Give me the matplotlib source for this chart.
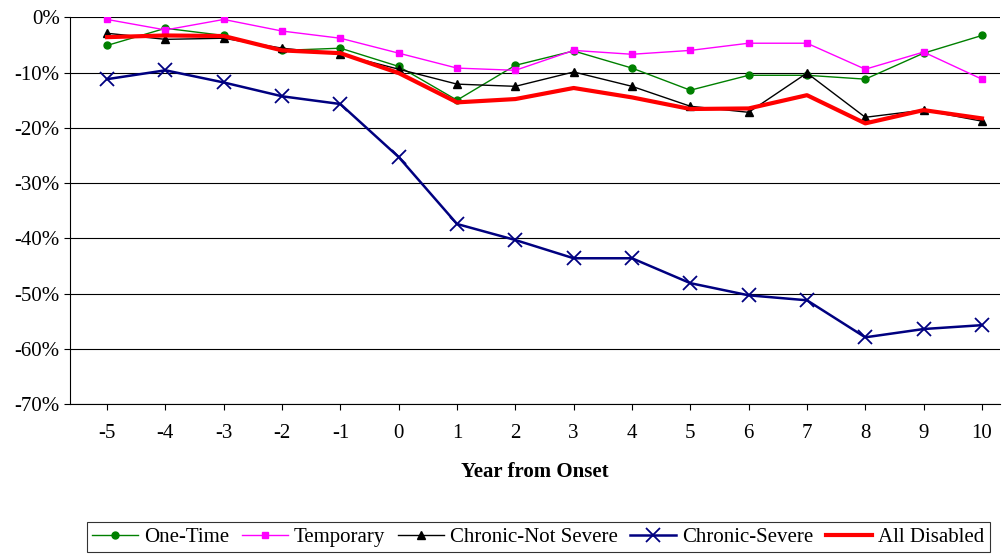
import matplotlib
matplotlib.use("Agg")
import matplotlib.pyplot as plt
from matplotlib.ticker import FuncFormatter

plt.rcParams['font.family'] = ['Liberation Serif', 'DejaVu Serif']

years = list(range(-5, 11))
one_time = [-5.1, -2.0, -3.3, -6.0, -5.6, -8.9, -15.0, -8.7, -6.1, -9.2, -13.2, -10.5, -10.5, -11.2, -6.5, -3.3]
temporary = [-0.4, -2.3, -0.4, -2.5, -3.8, -6.5, -9.2, -9.6, -6.0, -6.7, -6.0, -4.7, -4.7, -9.4, -6.3, -11.2]
chronic_ns = [-2.9, -4.0, -3.8, -5.6, -6.7, -9.4, -12.1, -12.5, -9.9, -12.5, -16.1, -17.2, -10.1, -18.1, -16.8, -18.8]
chronic_s = [-11.2, -9.6, -11.8, -14.3, -15.7, -25.3, -37.4, -40.3, -43.6, -43.6, -48.1, -50.3, -51.2, -57.9, -56.4, -55.7]
all_dis = [-3.6, -3.3, -3.4, -6.0, -6.5, -10.1, -15.4, -14.8, -12.8, -14.5, -16.6, -16.5, -14.1, -19.2, -16.8, -18.3]

fig = plt.figure(figsize=(10.02, 5.56), dpi=100)
ax = fig.add_axes([0.07, 0.273, 0.928, 0.696])
x = list(range(len(years)))
ax.plot(x, one_time, color='#008000', marker='o', ms=5, lw=1, label='One-Time')
ax.plot(x, temporary, color='#FF00FF', marker='s', ms=5, lw=1, label='Temporary')
ax.plot(x, chronic_ns, color='black', marker='^', ms=6, lw=1, label='Chronic-Not Severe')
ax.plot(x, chronic_s, color='#000080', marker='x', ms=10, mew=1.3, lw=1.8, label='Chronic-Severe')
ax.plot(x, all_dis, color='#FF0000', lw=3, label='All Disabled')

ax.set_xlim(-0.634, len(years) - 0.69)
ax.set_ylim(-70, 0)
ax.set_yticks(range(-70, 1, 10))
ax.yaxis.set_major_formatter(FuncFormatter(lambda v, p: f"{int(v)}%"))
ax.set_xticks(x)
ax.set_xticklabels([str(y) for y in years])
ax.tick_params(labelsize=15, length=4)
ax.tick_params(axis='x', pad=10)
ax.yaxis.grid(True, color='black', lw=0.8)
ax.set_axisbelow(True)
for s in ['top', 'right']:
    ax.spines[s].set_visible(False)
ax.set_xlabel('Year from Onset', fontsize=15, fontweight='bold', labelpad=14)

leg = fig.legend(loc='lower right', bbox_to_anchor=(0.998, -0.012), ncol=5, fontsize=15,
                 frameon=True, fancybox=False, edgecolor='black', handlelength=2.2,
                 columnspacing=0.6, handletextpad=0.3, borderpad=0.25)
leg.get_frame().set_linewidth(0.8)
fig.savefig('out.png', dpi=100)
